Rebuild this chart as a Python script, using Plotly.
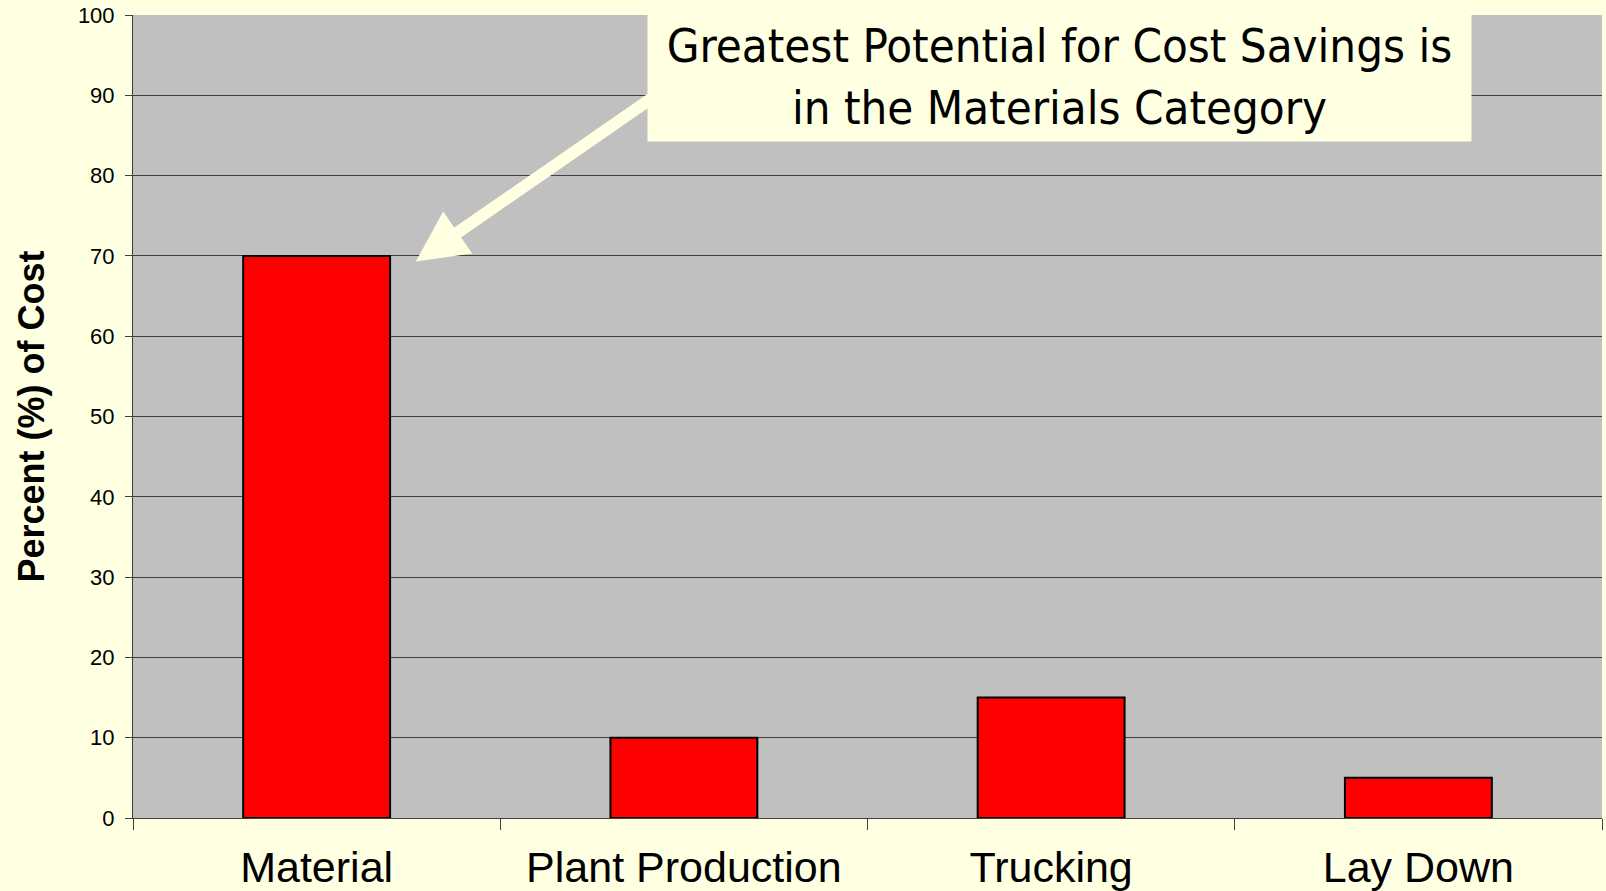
import plotly.graph_objects as go

# Cost breakdown by category
categories = ["Material", "Plant Production", "Trucking", "Lay Down"]
percent_cost = [70, 10, 15, 5]
y_ticks = [0, 10, 20, 30, 40, 50, 60, 70, 80, 90, 100]

callout_text = "Greatest Potential for Cost Savings is<br>in the Materials Category"

bg_colour = "#FFFFE1"

fig = go.Figure()
fig.add_trace(go.Bar(x=categories,
                     y=percent_cost,
                     marker_color="#FF0000",
                     marker_line_color="black",
                     marker_line_width=2,
                     width=0.4))

fig.update_layout(width=1606,
                  height=891,
                  paper_bgcolor=bg_colour,
                  plot_bgcolor="#C0C0C0",
                  showlegend=False,
                  margin=dict(l=133, r=4, t=15, b=73),
                  font=dict(family="Liberation Sans, Arial", color="black"))

fig.update_xaxes(tickson="boundaries",
                 ticks="outside",
                 ticklen=11,
                 tickcolor="#404040",
                 showline=True,
                 linecolor="#404040",
                 linewidth=1,
                 showgrid=False,
                 tickfont=dict(size=43),
                 ticklabelstandoff=11,
                 automargin=False)

fig.update_yaxes(range=[0, 100],
                 tickvals=y_ticks,
                 ticks="outside",
                 ticklen=7,
                 tickcolor="#404040",
                 showline=True,
                 linecolor="#404040",
                 linewidth=1,
                 gridcolor="#404040",
                 gridwidth=1,
                 zeroline=False,
                 tickfont=dict(size=22),
                 ticklabelstandoff=6,
                 title=dict(text="<b>Percent (%) of Cost</b>",
                            font=dict(size=36),
                            standoff=22),
                 automargin=False)

# arrow pointing at the Material bar
fig.add_annotation(x=0.27, y=69.3, xref="x", yref="y",
                   ax=260, ay=-180,
                   text="",
                   showarrow=True,
                   arrowhead=2,
                   arrowsize=0.85,
                   arrowwidth=12,
                   arrowcolor=bg_colour)

# callout box
fig.add_annotation(x=0.631, y=0.9234, xref="paper", yref="paper",
                   xanchor="center", yanchor="middle",
                   text=callout_text,
                   showarrow=False,
                   bgcolor=bg_colour,
                   width=821,
                   height=127,
                   font=dict(family="DejaVu Sans Condensed, DejaVu Sans", size=47, color="black"))

fig.write_html("out.html",
               config={"displayModeBar": False},
               post_script="document.body.style.margin='0';")
